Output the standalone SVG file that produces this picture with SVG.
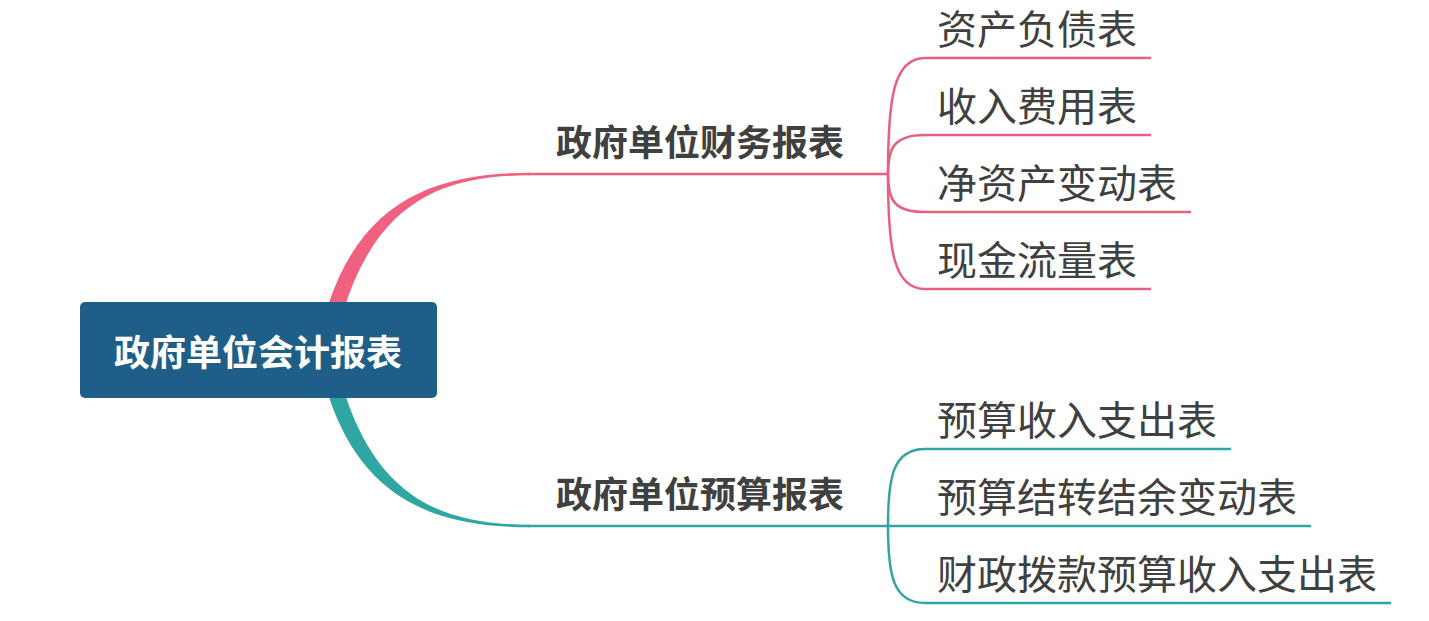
<svg xmlns="http://www.w3.org/2000/svg" width="1429" height="621" viewBox="0 0 1429 621">
<style>
.cjk{font-family:"Noto Sans CJK SC","Noto Sans CJK TC",sans-serif;}
.root{font-size:36px;font-weight:bold;fill:#ffffff;}
.branch{font-size:36px;font-weight:bold;fill:#404040;}
.leaf{font-size:40px;fill:#404040;}
.pk{stroke:#e9607f;fill:none;stroke-width:2.5;}
.tl{stroke:#2fa6a2;fill:none;stroke-width:2.5;}
</style>
<rect width="1429" height="621" fill="#ffffff"/>
<g id="connectors">
  <path d="M 328 306 C 362 200, 436 172.7, 530 172.7 L 530 175.3 C 442 175.3, 379 202, 345 306 Z" fill="#f0607f"/>
  <path d="M 328 394 C 362 500, 436 527.3, 530 527.3 L 530 524.7 C 442 524.7, 379 498, 345 394 Z" fill="#2fa6a2"/>
  <path class="pk" d="M 528 174 L 888 174"/>
  <path class="tl" d="M 528 526 L 888 526"/>
  <path class="pk" d="M 888 174 C 888 100, 893 58, 925 58 L 1151 58"/>
  <path class="pk" d="M 888 174 C 888 149, 893 135, 925 135 L 1151 135"/>
  <path class="pk" d="M 888 174 C 888 199, 893 212, 925 212 L 1191 212"/>
  <path class="pk" d="M 888 174 C 888 248, 893 289, 925 289 L 1151 289"/>
  <path class="tl" d="M 888 526 C 888 477, 893 449, 925 449 L 1231 449"/>
  <path class="tl" d="M 888 526 L 1311 526"/>
  <path class="tl" d="M 888 526 C 888 575, 893 603, 925 603 L 1391 603"/>
</g>
<g id="root">
  <rect x="80" y="302" width="357" height="96" rx="5" fill="#1f5f87"/>
  <text class="cjk root" x="258" y="366" text-anchor="middle">政府单位会计报表</text>
</g>
<g id="branch-finance">
  <text class="cjk branch" x="556" y="156">政府单位财务报表</text>
</g>
<g id="branch-budget">
  <text class="cjk branch" x="556" y="508">政府单位预算报表</text>
</g>
<g id="leaf-1"><text class="cjk leaf" x="937" y="44">资产负债表</text></g>
<g id="leaf-2"><text class="cjk leaf" x="937" y="121">收入费用表</text></g>
<g id="leaf-3"><text class="cjk leaf" x="937" y="198">净资产变动表</text></g>
<g id="leaf-4"><text class="cjk leaf" x="937" y="275">现金流量表</text></g>
<g id="leaf-5"><text class="cjk leaf" x="937" y="435">预算收入支出表</text></g>
<g id="leaf-6"><text class="cjk leaf" x="937" y="512">预算结转结余变动表</text></g>
<g id="leaf-7"><text class="cjk leaf" x="937" y="589">财政拨款预算收入支出表</text></g>
</svg>
